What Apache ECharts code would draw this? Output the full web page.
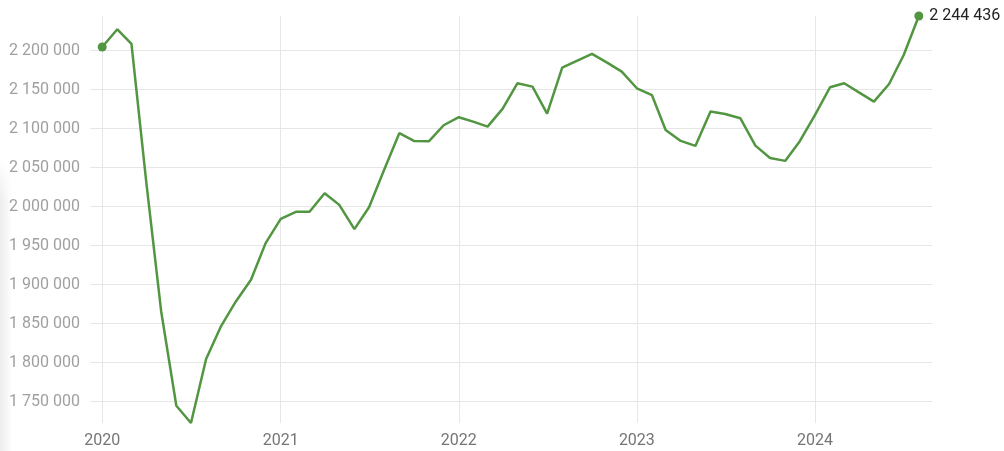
<!DOCTYPE html>
<html>
<head>
<meta charset="utf-8">
<title>chart</title>
<script src="https://cdn.jsdelivr.net/npm/echarts@6/dist/echarts.min.js"></script>
<style>
  html, body { margin: 0; padding: 0; background: #fff; }
  #chart { width: 1004px; height: 451px; position: relative; }
  .edge {
    position: absolute; left: 0; top: 160px; width: 12px; height: 291px;
    background: linear-gradient(to right, rgba(0,0,0,0.07), rgba(0,0,0,0));
    -webkit-mask-image: linear-gradient(to bottom, transparent, #000 40px);
    mask-image: linear-gradient(to bottom, transparent, #000 40px);
    pointer-events: none; z-index: 5;
  }
</style>
</head>
<body>
<div style="position:relative">
  <div id="chart"></div>
  <div class="edge"></div>
</div>
<script>
// monthly values, Jan 2020 .. Aug 2024
var months = [];
for (var y = 2020; y <= 2024; y++) {
  for (var m = 1; m <= 12; m++) {
    if (y === 2024 && m > 8) break;
    months.push(y + "-" + (m < 10 ? "0" + m : m) + "-01");
  }
}

var values = [
  2204700, 2227400, 2208600, 2028000, 1865400, 1744800, 1722700, 1804700, 1847300, 1878500, 1906300, 1953300,
  1984400, 1993400, 1993400, 2017300, 2002300, 1971200, 1999300, 2047400, 2094200, 2084300, 2084000, 2104400,
  2114700, 2108700, 2102600, 2125700, 2158200, 2153900, 2119300, 2178200, 2187200, 2195800, 2184600, 2173100,
  2151800, 2142900, 2098400, 2084300, 2077900, 2121900, 2118900, 2113400, 2078300, 2062500, 2058700, 2084000,
  2117300, 2153100, 2158200, 2146200, 2134700, 2157300, 2194500, 2244436
];

var yearTicks = ["2020-01-01", "2021-01-01", "2022-01-01", "2023-01-01", "2024-01-01"];
var yTicks = [1750000, 1800000, 1850000, 1900000, 1950000, 2000000, 2050000, 2100000, 2150000, 2200000];

var lineColor = "#529642";
var DAY = 24 * 3600 * 1000;

function ts(s) { return new Date(s + "T00:00:00").getTime(); }
function fmt(v) {
  return String(Math.round(v)).replace(/\B(?=(\d{3})+(?!\d))/g, " ");
}

var seriesData = months.map(function (d, i) {
  var item = { value: [ts(d), values[i]] };
  if (i === 0 || i === months.length - 1) {
    item.symbol = "circle";
    item.symbolSize = 9;
  }
  if (i === months.length - 1) {
    item.label = {
      show: true,
      position: "right",
      distance: 6,
      color: "#222",
      fontSize: 16,
      fontFamily: "Roboto",
      formatter: function (p) { return fmt(p.value[1]); }
    };
  }
  return item;
});

var xTickValues = yearTicks.map(ts);

var chart = echarts.init(document.getElementById("chart"));
chart.setOption({
  animation: false,
  grid: { left: 90, right: 72, top: 16, bottom: 28 },
  xAxis: {
    type: "value",
    min: ts(months[0]) - 25 * DAY,
    max: ts(months[months.length - 1]) + 27 * DAY,
    axisLine: { show: false },
    axisTick: { show: false, customValues: xTickValues },
    axisLabel: {
      customValues: xTickValues,
      margin: 10,
      color: "#757575",
      fontSize: 16,
      fontFamily: "Roboto",
      formatter: function (v) { return new Date(v).getFullYear(); }
    },
    splitLine: { show: true, lineStyle: { color: "#e6e6e6", width: 1 } }
  },
  yAxis: {
    type: "value",
    min: Math.min.apply(null, values),
    max: Math.max.apply(null, values),
    axisLine: { show: false },
    axisTick: { show: false, customValues: yTicks },
    axisLabel: {
      customValues: yTicks,
      margin: 10,
      color: "#a0a0a0",
      fontSize: 16,
      fontFamily: "Roboto",
      formatter: fmt
    },
    splitLine: { show: true, lineStyle: { color: "#e6e6e6", width: 1 } }
  },
  series: [{
    type: "line",
    data: seriesData,
    symbol: "none",
    showSymbol: true,
    lineStyle: { color: lineColor, width: 2.5 },
    itemStyle: { color: lineColor },
    z: 3
  }]
});
</script>
</body>
</html>
